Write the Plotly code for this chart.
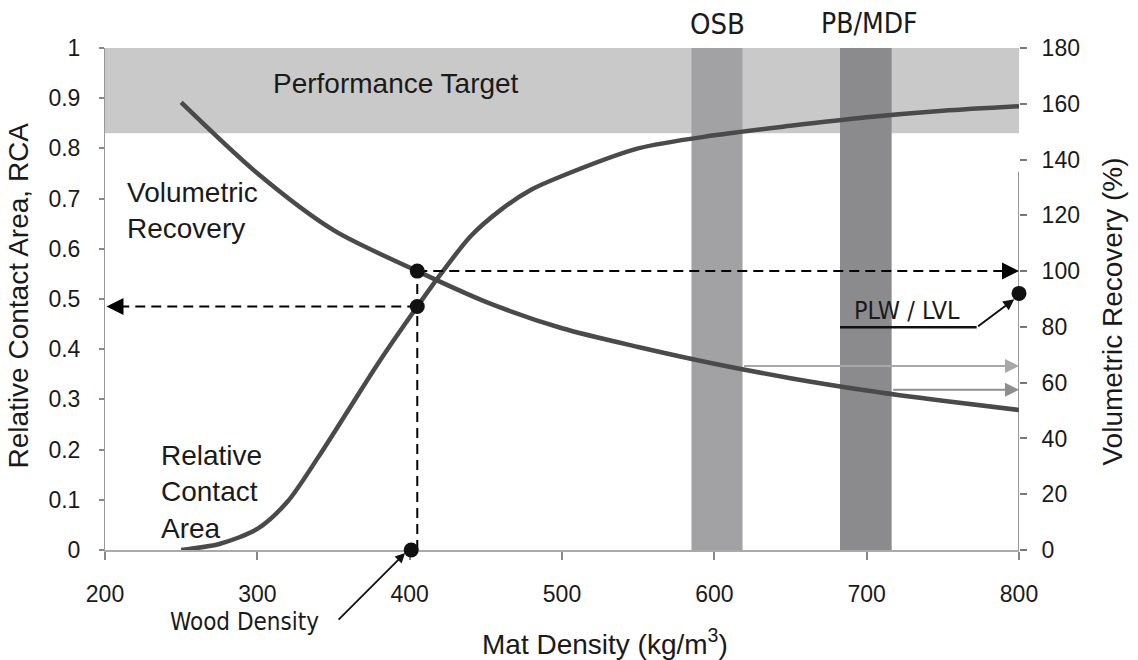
import plotly.graph_objects as go

# ---------------- data ----------------
mat_density_rca = [250, 275, 300, 320, 340, 360, 380, 405, 420, 440, 460, 480, 500, 550, 600, 650, 700, 750, 800]
rca_values = [0.0, 0.012, 0.042, 0.097, 0.185, 0.28, 0.375, 0.485, 0.548, 0.625, 0.678, 0.718, 0.745, 0.80, 0.826, 0.845, 0.862, 0.875, 0.884]

mat_density_vr = [250, 300, 350, 405, 450, 500, 550, 600, 650, 700, 750, 800]
vr_values = [160.5, 135.1, 114.7, 100.0, 89.0, 79.5, 72.8, 66.8, 61.6, 57.2, 53.5, 50.2]

wood_density = 405
wood_density_dot = 401
rca_at_wood = 0.485
vr_at_wood = 100
plw_lvl_vr = 92
osb_vr = 66
pbmdf_vr = 57.5

target_band = (0.83, 1.0)
osb_band = (585, 618.5)
pbmdf_band = (682.5, 716.4)

x_ticks = [200, 300, 400, 500, 600, 700, 800]
y_ticks = [0, 0.1, 0.2, 0.3, 0.4, 0.5, 0.6, 0.7, 0.8, 0.9, 1]
y_tick_text = ["0", "0.1", "0.2", "0.3", "0.4", "0.5", "0.6", "0.7", "0.8", "0.9", "1"]
y2_ticks = [0, 20, 40, 60, 80, 100, 120, 140, 160, 180]

# ---------------- style ----------------
FONT = "Liberation Sans, Arial, Helvetica, sans-serif"
NARROW = "Liberation Sans Narrow, Arial Narrow, DejaVu Sans Condensed, sans-serif"
TXT = "#1a1a1a"
CURVE = "#4a4a4a"
LBL = 28

fig = go.Figure()

# curves
fig.add_trace(go.Scatter(x=mat_density_rca, y=rca_values, mode="lines",
                         line=dict(color=CURVE, width=4.5, shape="spline", smoothing=0.8),
                         yaxis="y", hoverinfo="skip", showlegend=False))
fig.add_trace(go.Scatter(x=mat_density_vr, y=vr_values, mode="lines",
                         line=dict(color=CURVE, width=4.5, shape="spline", smoothing=0.8),
                         yaxis="y2", hoverinfo="skip", showlegend=False))

# dashed guide lines
DASH = "10px,6px"
fig.add_trace(go.Scatter(x=[wood_density, wood_density], y=[0, vr_at_wood / 180], mode="lines",
                         line=dict(color="black", width=2, dash=DASH), yaxis="y",
                         hoverinfo="skip", showlegend=False, cliponaxis=False))
fig.add_trace(go.Scatter(x=[wood_density, 203], y=[rca_at_wood, rca_at_wood], mode="lines",
                         line=dict(color="black", width=2, dash=DASH), yaxis="y",
                         hoverinfo="skip", showlegend=False, cliponaxis=False))
fig.add_trace(go.Scatter(x=[wood_density, 795], y=[vr_at_wood, vr_at_wood], mode="lines",
                         line=dict(color="black", width=2, dash=DASH), yaxis="y2",
                         hoverinfo="skip", showlegend=False, cliponaxis=False))
# arrow heads of dashed lines
fig.add_trace(go.Scatter(x=[201], y=[rca_at_wood], mode="markers",
                         marker=dict(symbol="arrow-left", size=17, color="black"),
                         yaxis="y", hoverinfo="skip", showlegend=False, cliponaxis=False))
fig.add_trace(go.Scatter(x=[800], y=[vr_at_wood], mode="markers",
                         marker=dict(symbol="arrow-right", size=17, color="black"),
                         yaxis="y2", hoverinfo="skip", showlegend=False, cliponaxis=False))

# dots
fig.add_trace(go.Scatter(x=[wood_density, wood_density_dot], y=[rca_at_wood, 0], mode="markers",
                         marker=dict(size=15, color="#111"), yaxis="y",
                         hoverinfo="skip", showlegend=False, cliponaxis=False))
fig.add_trace(go.Scatter(x=[wood_density, 800], y=[vr_at_wood, plw_lvl_vr], mode="markers",
                         marker=dict(size=15, color="#111"), yaxis="y2",
                         hoverinfo="skip", showlegend=False, cliponaxis=False))

shapes = [
    dict(type="rect", xref="x", yref="y", x0=200, x1=800, y0=target_band[0], y1=target_band[1],
         fillcolor="#c9c9c9", line=dict(width=0), layer="below"),
    dict(type="rect", xref="x", yref="y", x0=osb_band[0], x1=osb_band[1], y0=-0.004, y1=1,
         fillcolor="#a2a2a5", line=dict(width=0), layer="below"),
    dict(type="rect", xref="x", yref="y", x0=pbmdf_band[0], x1=pbmdf_band[1], y0=-0.004, y1=1,
         fillcolor="#8b8b8e", line=dict(width=0), layer="below"),
    # right axis line (visible below the target band)
    dict(type="line", xref="x", yref="y2", x0=800, x1=800, y0=0, y1=135.6,
         line=dict(color="#777", width=1.5), layer="below"),
    # PLW / LVL underline
    dict(type="line", xref="x", yref="y", x0=682.5, x1=772.2, y0=0.4436, y1=0.4436,
         line=dict(color="#111", width=2.5), layer="above"),
]

annotations = [
    dict(text="Performance Target", x=390.7, y=0.93, xref="x", yref="y", showarrow=False,
         font=dict(family=FONT, size=LBL, color=TXT), xanchor="center", yanchor="middle"),
    dict(text="Volumetric<br>Recovery", x=213, y=0.676, xref="x", yref="y", showarrow=False,
         align="left", font=dict(family=FONT, size=LBL, color=TXT), xanchor="left", yanchor="middle"),
    dict(text="Relative<br>Contact<br>Area", x=235.4, y=0.1165, xref="x", yref="y", showarrow=False,
         align="left", font=dict(family=FONT, size=LBL, color=TXT), xanchor="left", yanchor="middle"),
    dict(text="OSB", x=sum(osb_band) / 2, y=1.048, xref="x", yref="paper", showarrow=False,
         font=dict(family=NARROW, size=29, color=TXT), xanchor="center", yanchor="middle"),
    dict(text="PB/MDF", x=702, y=1.048, xref="x", yref="paper", showarrow=False,
         font=dict(family=NARROW, size=28, color=TXT), xanchor="center", yanchor="middle"),
    dict(text="Wood Density", x=342, y=-0.143, xref="x", yref="paper", showarrow=False,
         font=dict(family=NARROW, size=24, color=TXT), xanchor="right", yanchor="middle"),
    dict(text="", x=397, y=-0.006, xref="x", yref="paper", ax=-68, ay=68,
         showarrow=True, arrowhead=2, arrowsize=1.1, arrowwidth=1.8, arrowcolor="#111"),
    dict(text="PLW / LVL", x=726.8, y=0.478, xref="x", yref="y", showarrow=False,
         font=dict(family=NARROW, size=25, color=TXT), xanchor="center", yanchor="middle"),
    dict(text="", x=796.9, y=0.4994, xref="x", yref="y", ax=772.2, ay=0.4436, axref="x", ayref="y",
         showarrow=True, arrowhead=2, arrowsize=1.1, arrowwidth=2, arrowcolor="#111"),
    # gray arrows to right axis
    dict(text="", x=800, y=osb_vr, xref="x", yref="y2", ax=osb_band[1], ay=osb_vr, axref="x", ayref="y2",
         showarrow=True, arrowhead=2, arrowsize=1.4, arrowwidth=2, arrowcolor="#a8a8a8"),
    dict(text="", x=800, y=pbmdf_vr, xref="x", yref="y2", ax=pbmdf_band[1], ay=pbmdf_vr, axref="x", ayref="y2",
         showarrow=True, arrowhead=2, arrowsize=1.4, arrowwidth=2, arrowcolor="#8e8e8e"),
    # axis titles
    dict(text="Relative Contact Area, RCA", x=-0.0952, y=0.507, xref="paper", yref="paper",
         showarrow=False, textangle=-90, font=dict(family=FONT, size=LBL, color=TXT),
         xanchor="center", yanchor="middle"),
    dict(text="Volumetric Recovery (%)", x=1.1028, y=0.475, xref="paper", yref="paper",
         showarrow=False, textangle=-90, font=dict(family=FONT, size=LBL, color=TXT),
         xanchor="center", yanchor="middle"),
    dict(text="Mat Density (kg/m<sup>3</sup>)", x=0.547, y=-0.183, xref="paper", yref="paper",
         showarrow=False, font=dict(family=FONT, size=LBL, color=TXT),
         xanchor="center", yanchor="middle"),
]

fig.update_layout(
    width=1138, height=660,
    margin=dict(l=105, r=119, t=48, b=110),
    paper_bgcolor="white", plot_bgcolor="white",
    font=dict(family=FONT, color=TXT),
    showlegend=False,
    shapes=shapes,
    annotations=annotations,
    xaxis=dict(range=[200, 800], tickvals=x_ticks, showgrid=False, zeroline=False,
               showline=True, linecolor="#aaaaaa", linewidth=2, layer="below traces",
               ticks="outside", ticklen=8, tickcolor="#888", tickwidth=1.5,
               ticklabelstandoff=14, tickfont=dict(size=23, color=TXT, family=FONT)),
    yaxis=dict(range=[0, 1], tickvals=y_ticks, ticktext=y_tick_text, showgrid=False, zeroline=False,
               showline=True, linecolor="#999", linewidth=1, layer="below traces",
               ticks="outside", ticklen=5, tickcolor="#888", tickwidth=1.5,
               ticklabelstandoff=14, tickfont=dict(size=23, color=TXT, family=FONT)),
    yaxis2=dict(range=[0, 180], tickvals=y2_ticks, overlaying="y", side="right",
                showgrid=False, zeroline=False, showline=False, layer="below traces",
                ticks="outside", ticklen=7, tickcolor="#777", tickwidth=1.5,
                ticklabelstandoff=10, tickfont=dict(size=23, color=TXT, family=FONT)),
)

fig.write_html("out.html")
